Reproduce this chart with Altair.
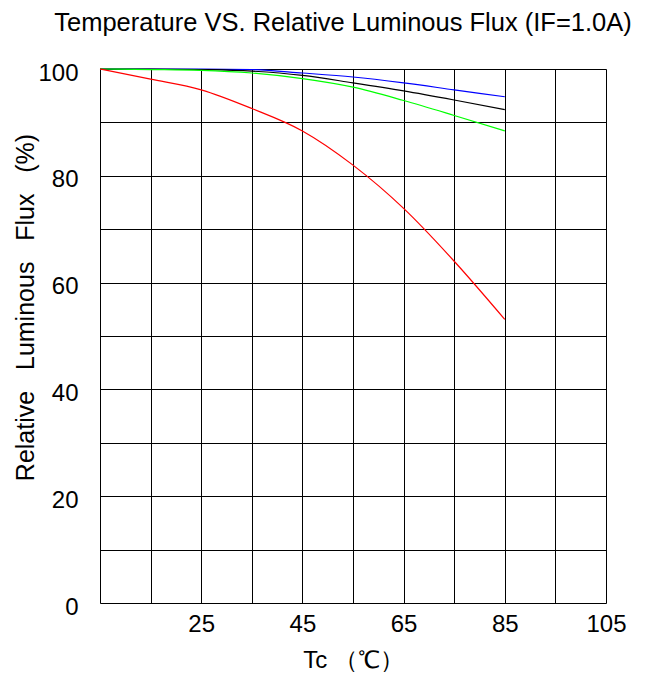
import altair as alt
import pandas as pd

temps = [5, 15, 25, 35, 45, 55, 65, 75, 85]
blue = [100, 100, 100, 99.9, 99.25, 98.5, 97.4, 96.1, 94.8]
black = [100, 100, 99.9, 99.6, 98.8, 97.4, 95.9, 94.2, 92.4]
green = [100, 99.9, 99.75, 99.25, 98.2, 96.6, 94.1, 91.3, 88.4]
red = [100, 98.1, 96.1, 92.6, 88.4, 82.0, 73.9, 64.0, 53.1]

series_names = ["blue", "black", "green", "red"]
series_colors = ["#0000ff", "#000000", "#00ff00", "#ff0000"]

x_grid = [5, 15, 25, 35, 45, 55, 65, 75, 85, 95, 105]
x_labels = [25, 45, 65, 85, 105]
y_grid = [0, 10, 20, 30, 40, 50, 60, 70, 80, 90, 100]
y_labels = [0, 20, 40, 60, 80, 100]

rows = []
for name, vals in zip(series_names, [blue, black, green, red]):
    for t, v in zip(temps, vals):
        rows.append({"T": t, "flux": v, "series": name})
df = pd.DataFrame(rows)

FONT = "Liberation Sans"
GAP = "\u00a0\u00a0\u00a0"

x_expr = "indexof(" + str(x_labels) + ", datum.value) >= 0 ? datum.label : ''"
y_expr = "indexof(" + str(y_labels) + ", datum.value) >= 0 ? datum.label : ''"

chart = alt.Chart(df).mark_line(strokeWidth=1.2, interpolate="monotone").encode(
    x=alt.X("T:Q", scale=alt.Scale(domain=[5, 105], nice=False, zero=False),
            axis=alt.Axis(values=x_grid, labelExpr=x_expr, grid=True, ticks=False, domain=False,
                          gridColor="#000000", gridOpacity=1, gridWidth=1,
                          labelFont=FONT, labelFontSize=24, labelColor="#000000",
                          labelPadding=9, labelFlush=False, labelOverlap=False,
                          title="Tc\u00a0（℃）", titleFont=FONT, titleFontSize=24,
                          titleFontWeight="normal", titleColor="#000000", titlePadding=12)),
    y=alt.Y("flux:Q", scale=alt.Scale(domain=[0, 100], nice=False, zero=False),
            axis=alt.Axis(values=y_grid, labelExpr=y_expr, grid=True, ticks=False, domain=False,
                          gridColor="#000000", gridOpacity=1, gridWidth=1,
                          labelFont=FONT, labelFontSize=24, labelColor="#000000",
                          labelPadding=22, labelFlush=False, labelOverlap=False, labelOffset=4,
                          title="Relative" + GAP + "Luminous" + GAP + "Flux" + GAP + "(%)",
                          titleFont=FONT, titleFontSize=25, titleFontWeight="normal",
                          titleColor="#000000", titleX=-75, titleY=238, titleAngle=270,
                          titleBaseline="middle", titleAlign="center")),
    color=alt.Color("series:N", scale=alt.Scale(domain=series_names, range=series_colors), legend=None),
    detail="series:N",
).properties(
    width=506,
    height=534,
    title=alt.TitleParams("Temperature VS. Relative Luminous Flux (IF=1.0A)", font=FONT,
                          fontSize=25.5, fontWeight="normal", color="#000000",
                          anchor="middle", dx=-10, offset=25),
    autosize=alt.AutoSizeParams(type="none"),
    padding={"left": 92, "top": 61, "right": 32, "bottom": 70},
).configure_view(stroke="#000000", strokeWidth=1).configure(background="#ffffff")

chart.save("out.html", embed_options={"renderer": "svg", "actions": False})
